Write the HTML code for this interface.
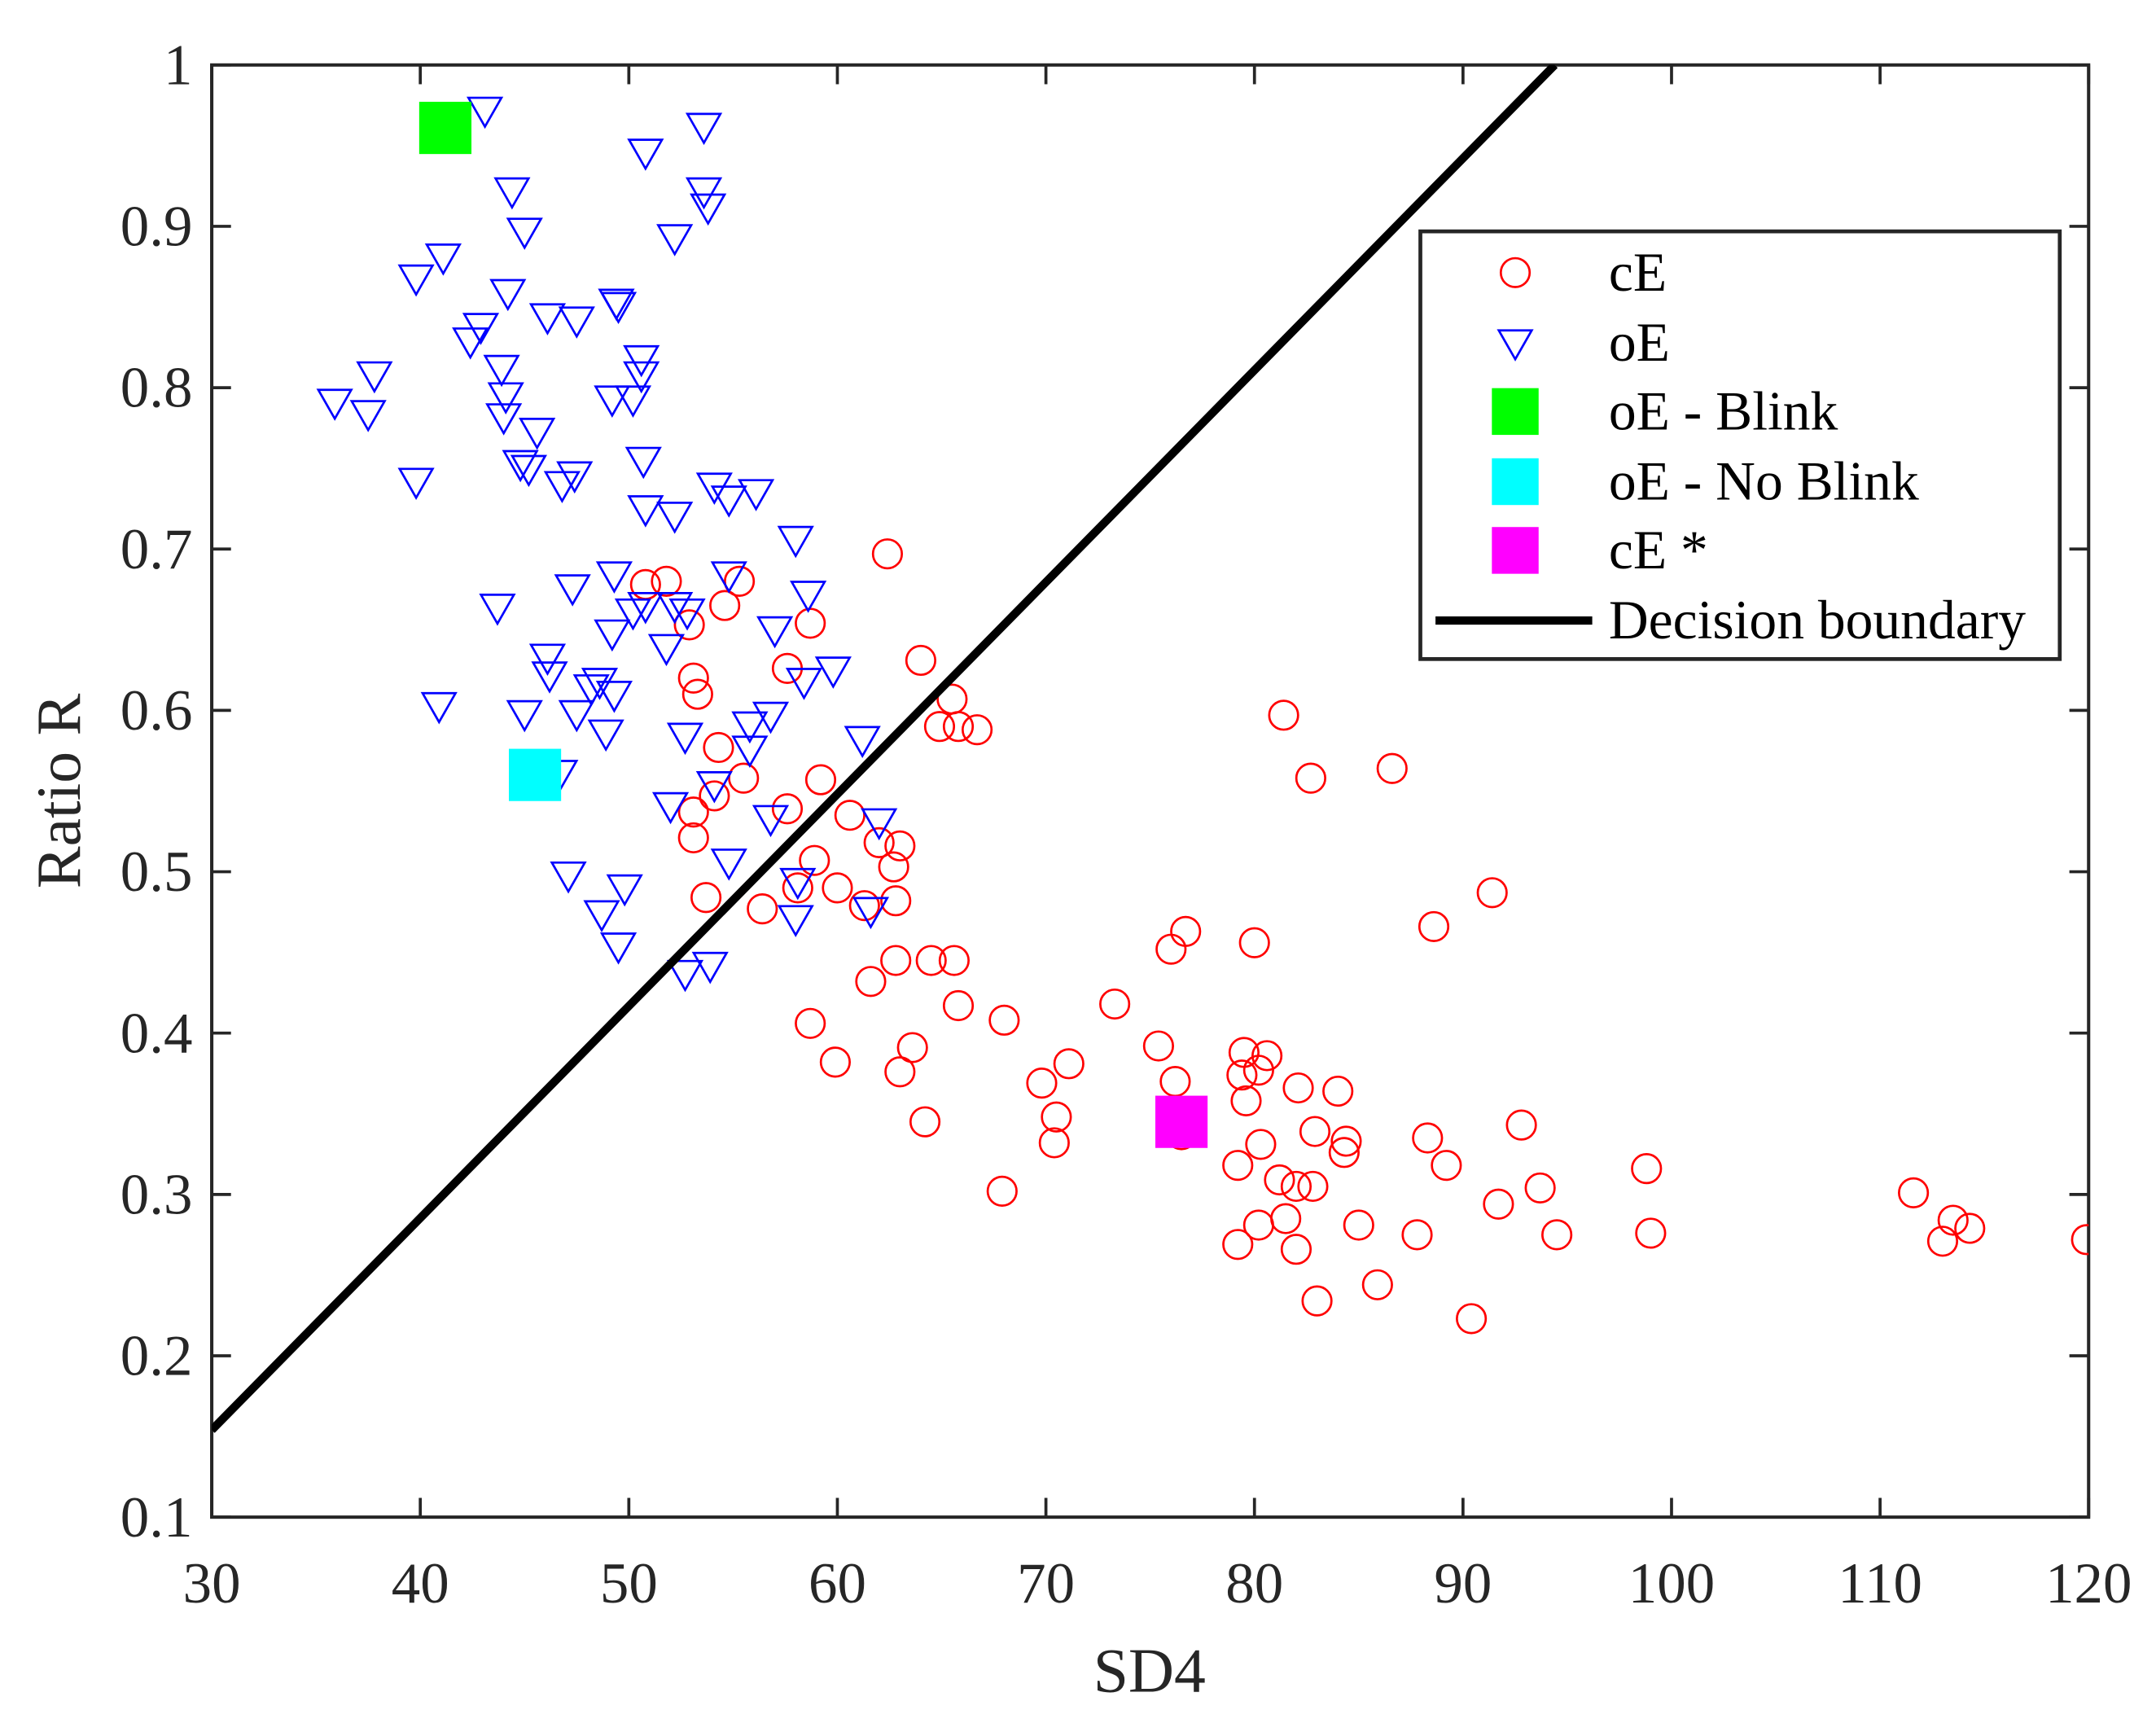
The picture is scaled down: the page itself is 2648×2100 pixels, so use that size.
<!DOCTYPE html>
<html><head><meta charset="utf-8"><style>html,body{margin:0;padding:0;background:#fff}svg{display:block}</style></head>
<body>
<svg id="chart" width="2648" height="2100" viewBox="0 0 1568 1243" xmlns="http://www.w3.org/2000/svg" font-family="'Liberation Serif', serif">
<rect width="1568" height="1243" fill="#fff"/>
<g id="plot"></g>
</svg>
<script>
const xTicks=[30,40,50,60,70,80,90,100,110,120];
const yTicks=[0.1,0.2,0.3,0.4,0.5,0.6,0.7,0.8,0.9,1];
const yTickLabels=["0.1","0.2","0.3","0.4","0.5","0.6","0.7","0.8","0.9","1"];
const oeX=[43.1,53.6,44.4,53.6,53.8,45.0,50.8,52.2,39.8,41.1,44.2,49.4,49.5,46.1,47.5,42.9,42.4,50.6,50.6,43.9,44.1,35.9,37.8,37.5,49.2,50.2,44.0,45.6,44.8,45.2,50.7,39.8,46.8,47.4,52.2,54.1,56.1,54.8,50.8,58.0,43.7,47.3,49.3,54.8,58.6,49.2,50.2,50.8,52.2,51.8,52.8,57.0,46.1,46.2,48.6,48.2,49.3,59.8,45.0,40.9,47.5,52.7,55.8,56.8,58.4,61.2,48.9,54.1,52.0,62.0,56.8,47.1,49.8,54.8,48.7,49.5,58.1,58.0,61.6,52.7,53.9,46.7,55.8];
const oeY=[0.972,0.962,0.922,0.922,0.912,0.897,0.946,0.893,0.868,0.881,0.859,0.853,0.851,0.844,0.842,0.838,0.829,0.818,0.808,0.812,0.795,0.791,0.808,0.784,0.793,0.793,0.782,0.773,0.753,0.750,0.755,0.742,0.740,0.746,0.721,0.739,0.735,0.731,0.725,0.706,0.664,0.676,0.684,0.684,0.672,0.648,0.661,0.665,0.665,0.639,0.661,0.650,0.633,0.622,0.618,0.614,0.610,0.625,0.598,0.603,0.598,0.584,0.591,0.597,0.618,0.582,0.586,0.554,0.541,0.531,0.533,0.498,0.490,0.506,0.474,0.454,0.494,0.471,0.476,0.437,0.442,0.561,0.576];
const ceX=[62.4,50.8,51.8,55.3,54.6,52.9,58.7,64.0,57.6,53.1,53.3,65.5,64.9,65.8,66.7,54.3,55.5,59.2,57.6,54.1,53.1,60.6,58.9,62.0,63.0,62.7,53.1,58.1,60.0,53.7,61.3,62.8,56.4,62.8,64.5,65.6,61.6,65.8,58.7,68.0,59.9,63.6,63.0,64.2,67.9,69.8,71.1,70.5,70.4,73.3,75.4,76.0,76.7,76.2,80.0,79.5,80.6,80.2,79.4,79.6,82.1,84.0,80.3,82.9,84.4,84.3,81.2,82.0,82.8,79.2,81.5,80.2,79.2,82.0,83.0,85.0,85.9,87.8,89.2,88.3,92.8,93.7,91.7,94.5,90.4,98.8,99.0,88.6,91.4,86.6,82.7,81.4,111.6,113.5,114.3,113.0,119.9,76.5];
const ceY=[0.697,0.678,0.680,0.680,0.665,0.653,0.654,0.631,0.626,0.620,0.610,0.607,0.590,0.590,0.588,0.577,0.558,0.557,0.539,0.547,0.537,0.535,0.507,0.518,0.516,0.503,0.521,0.490,0.490,0.484,0.479,0.482,0.477,0.445,0.445,0.445,0.432,0.417,0.406,0.408,0.382,0.391,0.376,0.345,0.302,0.369,0.381,0.348,0.332,0.418,0.392,0.452,0.463,0.370,0.456,0.388,0.386,0.377,0.374,0.358,0.366,0.364,0.331,0.339,0.333,0.326,0.309,0.305,0.305,0.318,0.285,0.281,0.269,0.266,0.234,0.281,0.244,0.275,0.318,0.335,0.343,0.304,0.294,0.275,0.223,0.316,0.276,0.466,0.487,0.564,0.558,0.597,0.301,0.284,0.279,0.271,0.272,0.337];
const specialX=[41.2,45.5,76.5];
const specialY=[0.961,0.560,0.345];
const specialColors=["#00ff00","#00ffff","#ff00ff"];
const specialNames=["oe-blink-marker","oe-no-blink-marker","ce-star-marker"];
const boundaryX=[30,94.4];
const boundaryY=[0.154,1];

const L=154,R=1519,T=47,B=1103;
const sx=v=>L+(v-30)/90*(R-L);
const sy=v=>B-(v-0.1)/0.9*(B-T);
const NS="http://www.w3.org/2000/svg";
const g=document.getElementById('plot');
function mk(tag,attrs,parent){const e=document.createElementNS(NS,tag);for(const k in attrs)e.setAttribute(k,attrs[k]);(parent||g).appendChild(e);return e;}

const clip=mk('clipPath',{id:'pc'});mk('rect',{x:L,y:T,width:R-L,height:B-T},clip);

const box=mk('rect',{x:L,y:T,width:R-L,height:B-T,fill:'none',stroke:'#262626','stroke-width':2.4});



xTicks.forEach(v=>{
  const x=sx(v);
  const t1=mk('line',{x1:x,x2:x,y1:B,y2:B-14,stroke:'#262626','stroke-width':2.2});
  
  
  const t2=mk('line',{x1:x,x2:x,y1:T,y2:T+14,stroke:'#262626','stroke-width':2.2});
  
  
  const tx=mk('text',{x:x,y:1165,'text-anchor':'middle','font-size':42,fill:'#262626'});
  tx.textContent=String(v);
  
  
});
yTicks.forEach((v,i)=>{
  const y=sy(v);
  const t1=mk('line',{x1:L,x2:L+14,y1:y,y2:y,stroke:'#262626','stroke-width':2.2});
  
  
  const t2=mk('line',{x1:R,x2:R-14,y1:y,y2:y,stroke:'#262626','stroke-width':2.2});
  
  
  const tx=mk('text',{x:140,y:y+14,'text-anchor':'end','font-size':42,fill:'#262626'});
  tx.textContent=yTickLabels[i];
  
  
});

const xt=mk('text',{x:836,y:1230,'text-anchor':'middle','font-size':46,fill:'#262626'});
xt.textContent='SD4';


const yt=mk('text',{x:0,y:0,'text-anchor':'middle','font-size':46,fill:'#262626',transform:'translate(58,575) rotate(-90)'});
yt.textContent='Ratio R';



const pg=mk('g',{'clip-path':'url(#pc)'});



ceX.forEach((v,i)=>{
  const c=mk('circle',{cx:sx(v),cy:sy(ceY[i]),r:10.5,fill:'none',stroke:'#ff0000','stroke-width':1.6},pg);
  
  
});
oeX.forEach((v,i)=>{
  const x=sx(v),y=sy(oeY[i]);
  const p=mk('polygon',{points:`${x-12},${y-9} ${x+12},${y-9} ${x},${y+12}`,fill:'none',stroke:'#0000ff','stroke-width':1.6},pg);
  
  
});
specialX.forEach((v,i)=>{
  const r=mk('rect',{x:sx(v)-19,y:sy(specialY[i])-19,width:38,height:38,fill:specialColors[i]},pg);
  
  
});
const bl=mk('line',{x1:sx(boundaryX[0]),y1:sy(boundaryY[0]),x2:sx(boundaryX[1]),y2:sy(boundaryY[1]),stroke:'#000','stroke-width':6},pg);



const lg=mk('g',{});


mk('rect',{x:1033,y:168,width:465,height:311,fill:'#fff',stroke:'#262626','stroke-width':2.8},lg);
const labels=['cE','oE','oE - Blink','oE - No Blink','cE *','Decision boundary'];
const ys=[198,249,299,350,400,451];
labels.forEach((s,i)=>{
  const y=ys[i];
  if(i===0)mk('circle',{cx:1102,cy:y,r:10.5,fill:'none',stroke:'#ff0000','stroke-width':1.6},lg);
  else if(i===1)mk('polygon',{points:`1090,${y-9} 1114,${y-9} 1102,${y+12}`,fill:'none',stroke:'#0000ff','stroke-width':1.6},lg);
  else if(i<5)mk('rect',{x:1085,y:y-17,width:34,height:34,fill:specialColors[i-2]},lg);
  else mk('line',{x1:1044,x2:1158,y1:y,y2:y,stroke:'#000','stroke-width':6},lg);
  const t=mk('text',{x:1170,y:y+13,'font-size':40,fill:'#000'},lg);
  t.textContent=s;
  
  
});
</script>
</body></html>
